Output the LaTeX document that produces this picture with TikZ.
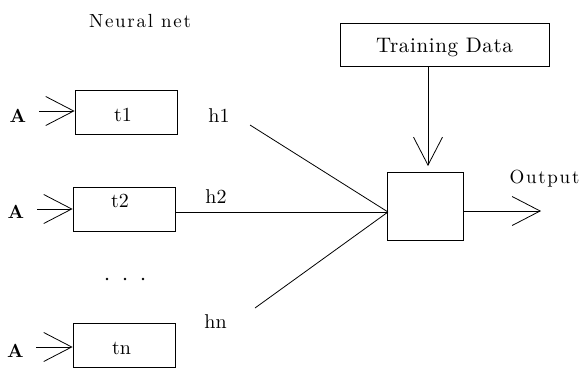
\documentclass[tikz,border=0pt]{standalone}
\usepackage{fontspec}
\setmainfont{lmroman10-regular.otf}[BoldFont=lmroman10-bold.otf]
\newfontfamily\widefont{lmroman10-regular.otf}[LetterSpace=9]
\newfontfamily\trainfont{lmroman10-regular.otf}[LetterSpace=3]
\usetikzlibrary{arrows.meta}
\begin{document}
\begin{tikzpicture}[x=1pt,y=-1pt,line width=0.8pt,
  box/.style={draw, inner sep=0pt, minimum width=102pt, minimum height=44pt},
  lbl/.style={inner sep=0pt, anchor=base, font=\fontsize{20}{24}\selectfont},
  alb/.style={inner sep=0pt, anchor=base, font=\fontsize{19}{23}\selectfont\bfseries},
  spaced/.style={font=\widefont\fontsize{19}{23}\selectfont},
  arr/.style={-{Straight Barb[length=28pt,width=29pt]}},
]
\useasboundingbox (0,0) rectangle (582,370);
% title
\node[lbl, spaced] (title) at (140,27) {Neural net};
% input boxes
\node[box] (t1) at (126,112) {};
\node[box] (t2) at (124,209) {};
\node[box] (tn) at (124,345.5) {};
\node[lbl] (t1l) at (123,121.7) {t1};
\node[lbl] (t2l) at (120,207) {t2};
\node[lbl] (tnl) at (121.5,354) {tn};
% A inputs
\node[alb] (a1) at (18,122) {A};
\node[alb] (a2) at (16,218) {A};
\node[alb] (an) at (15.5,357) {A};
\coordinate (a1s) at (39,111);
\coordinate (a2s) at (37,209);
\coordinate (ans) at (36,347);
\draw[arr] (a1s) -- (t1.west |- a1s);
\draw[arr] (a2s) -- (t2.west |- a2s);
\draw[arr] (ans) -- (tn.west |- ans);
% dots
\fill (107,279) circle (1.3pt);
\fill (125,279) circle (1.3pt);
\fill (143,279) circle (1.3pt);
% h labels
\node[lbl] (h1) at (219,122) {h1};
\node[lbl] (h2) at (216,203) {h2};
\node[lbl] (hn) at (215.5,328) {hn};
% main box
\node[draw, inner sep=0pt, minimum width=76pt, minimum height=68pt] (main) at (425,206) {};
\coordinate (conv) at (388,212);
\coordinate (h1s) at (250,125);
\coordinate (hns) at (255,308);
\draw (h1s) -- (conv);
\draw (hns) -- (conv);
\draw (t2.east |- conv) -- (conv);
% training data
\node[box, minimum width=209pt, minimum height=43pt] (train) at (444.5,44.5) {};
\node[lbl, font=\trainfont\fontsize{21}{25}\selectfont] (trainl) at (444.5,52) {Training Data};
\coordinate (tip) at (428,166);
\draw[arr] (train.south -| tip) -- (tip);
% output
\coordinate (outc) at (541,211);
\draw[arr] (main.east |- outc) -- (outc);
\node[lbl, spaced] (out) at (544.5,183) {Output};
\end{tikzpicture}
\end{document}
